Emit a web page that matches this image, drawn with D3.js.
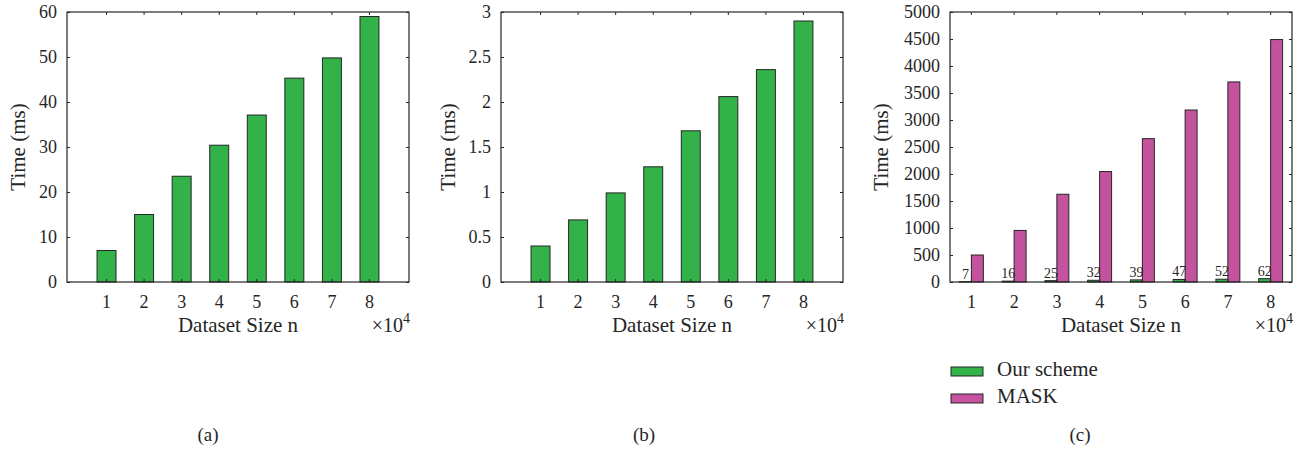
<!DOCTYPE html>
<html>
<head>
<meta charset="utf-8">
<script src="https://cdn.jsdelivr.net/npm/d3@7"></script>
<style>
  html, body { margin: 0; padding: 0; background: #fff; }
  svg { display: block; }
  text { font-family: "Liberation Serif", "Times New Roman", serif; fill: #262626; }
</style>
</head>
<body>
<svg id="chart" width="1309" height="454"></svg>
<script>
// ---------- data ----------
const categories = [1, 2, 3, 4, 5, 6, 7, 8];
const timeA = [7, 15, 23.5, 30.4, 37.1, 45.3, 49.8, 59];
const timeB = [0.4, 0.69, 0.99, 1.28, 1.68, 2.06, 2.36, 2.9];
const ourScheme = [7, 16, 25, 32, 39, 47, 52, 62];
const mask = [500, 955, 1625, 2045, 2655, 3185, 3705, 4490];
const yTicksA = [0, 10, 20, 30, 40, 50, 60];
const yTicksB = [0, 0.5, 1, 1.5, 2, 2.5, 3];
const yTicksC = [0, 500, 1000, 1500, 2000, 2500, 3000, 3500, 4000, 4500, 5000];
const seriesNames = ["Our scheme", "MASK"];
const panelLabels = ["(a)", "(b)", "(c)"];
const xTitle = "Dataset Size n";
const yTitle = "Time (ms)";

// ---------- styles ----------
const GREEN = "#33b24a";
const MAGENTA = "#c5529e";
const INK = "#262626";

const svg = d3.select("#chart");
const fmt = d3.format("~g");

function frame(g, x, y, box, yTicks, yTitleX) {
  const {left, right, top, bottom} = box;
  const xb = g.append("g").attr("transform", `translate(0,${bottom})`)
    .call(d3.axisBottom(x).tickSizeInner(-3).tickSizeOuter(0).tickPadding(13));
  const xt = g.append("g").attr("transform", `translate(0,${top})`)
    .call(d3.axisTop(x).tickSizeInner(-3).tickSizeOuter(0).tickFormat(""));
  const yl = g.append("g").attr("transform", `translate(${left},0)`)
    .call(d3.axisLeft(y).tickValues(yTicks).tickFormat(fmt).tickSizeInner(-3).tickSizeOuter(0).tickPadding(10));
  const yr = g.append("g").attr("transform", `translate(${right},0)`)
    .call(d3.axisRight(y).tickValues(yTicks).tickSizeInner(-3).tickSizeOuter(0).tickFormat(""));
  [xb, xt, yl, yr].forEach(a => {
    a.select(".domain").remove();
    a.selectAll("line").attr("stroke", INK).attr("stroke-width", 1);
    a.selectAll("text").attr("font-family", '"Liberation Serif", serif')
      .attr("font-size", 18).attr("fill", INK);
  });
  xb.selectAll("text").attr("dy", "0.71em");
  g.append("rect")
    .attr("x", left).attr("y", top)
    .attr("width", right - left).attr("height", bottom - top)
    .attr("fill", "none").attr("stroke", INK).attr("stroke-width", 1.2);
  g.append("text")
    .attr("x", (left + right) / 2).attr("y", bottom + 50)
    .attr("text-anchor", "middle").attr("font-size", 21).text(xTitle);
  const xe = g.append("text")
    .attr("x", right + 1).attr("y", bottom + 50)
    .attr("text-anchor", "end").attr("font-size", 20);
  xe.append("tspan").text("\u00d710");
  xe.append("tspan").attr("font-size", 14).attr("dy", -9).text("4");
  g.append("text")
    .attr("transform", `translate(${yTitleX},${(top + bottom) / 2}) rotate(-90)`)
    .attr("text-anchor", "middle").attr("font-size", 21).text(yTitle);
}

function panelSimple(box, values, yMax, yTicks, label, labelX, yTitleX) {
  const g = svg.append("g");
  const x = d3.scaleBand().domain(categories).range([box.left, box.right])
    .paddingInner(0.495).paddingOuter(0.8);
  const y = d3.scaleLinear().domain([0, yMax]).range([box.bottom, box.top]);
  g.selectAll("rect.bar").data(categories).join("rect")
    .attr("class", "bar")
    .attr("x", d => x(d))
    .attr("y", (d, i) => y(values[i]))
    .attr("width", x.bandwidth())
    .attr("height", (d, i) => y(0) - y(values[i]))
    .attr("fill", GREEN).attr("stroke", INK).attr("stroke-width", 1);
  frame(g, x, y, box, yTicks, yTitleX);
  g.append("text").attr("x", labelX).attr("y", 441)
    .attr("text-anchor", "middle").attr("font-size", 19).text(label);
}

panelSimple({left: 67, right: 409, top: 12, bottom: 282}, timeA, 60, yTicksA, panelLabels[0], 208, 25);
panelSimple({left: 501, right: 843, top: 12, bottom: 282}, timeB, 3, yTicksB, panelLabels[1], 644, 455);

// ---------- panel (c) ----------
(function () {
  const box = {left: 950, right: 1292, top: 12, bottom: 282};
  const g = svg.append("g");
  const x0 = d3.scaleBand().domain(categories).range([box.left, box.right])
    .paddingInner(0.44).paddingOuter(0.22);
  const x1 = d3.scaleBand().domain(seriesNames).range([0, x0.bandwidth()]).padding(0);
  const y = d3.scaleLinear().domain([0, 5000]).range([box.bottom, box.top]);
  const color = d3.scaleOrdinal().domain(seriesNames).range([GREEN, MAGENTA]);
  const rows = categories.map((c, i) => ({c, vals: [ourScheme[i], mask[i]]}));
  const grp = g.selectAll("g.grp").data(rows).join("g").attr("class", "grp")
    .attr("transform", d => `translate(${x0(d.c)},0)`);
  grp.selectAll("rect").data(d => d.vals.map((v, k) => ({k: seriesNames[k], v})))
    .join("rect")
    .attr("x", d => x1(d.k))
    .attr("y", d => y(d.v))
    .attr("width", x1.bandwidth())
    .attr("height", d => y(0) - y(d.v))
    .attr("fill", d => color(d.k)).attr("stroke", INK).attr("stroke-width", 1);
  grp.append("text")
    .attr("x", x1(seriesNames[0]) + x1.bandwidth() / 2)
    .attr("y", d => y(d.vals[0]) - 3)
    .attr("text-anchor", "middle").attr("font-size", 14)
    .text(d => d.vals[0]);
  frame(g, x0, y, box, yTicksC, 888);

  const leg = g.append("g");
  seriesNames.forEach((s, i) => {
    const yy = 367 + i * 27;
    leg.append("rect").attr("x", 951).attr("y", yy).attr("width", 32).attr("height", 9)
      .attr("fill", color(s)).attr("stroke", INK).attr("stroke-width", 1);
    leg.append("text").attr("x", 997).attr("y", yy + 9).attr("font-size", 21).text(s);
  });
  g.append("text").attr("x", 1080).attr("y", 441)
    .attr("text-anchor", "middle").attr("font-size", 19).text(panelLabels[2]);
})();
</script>
</body>
</html>
